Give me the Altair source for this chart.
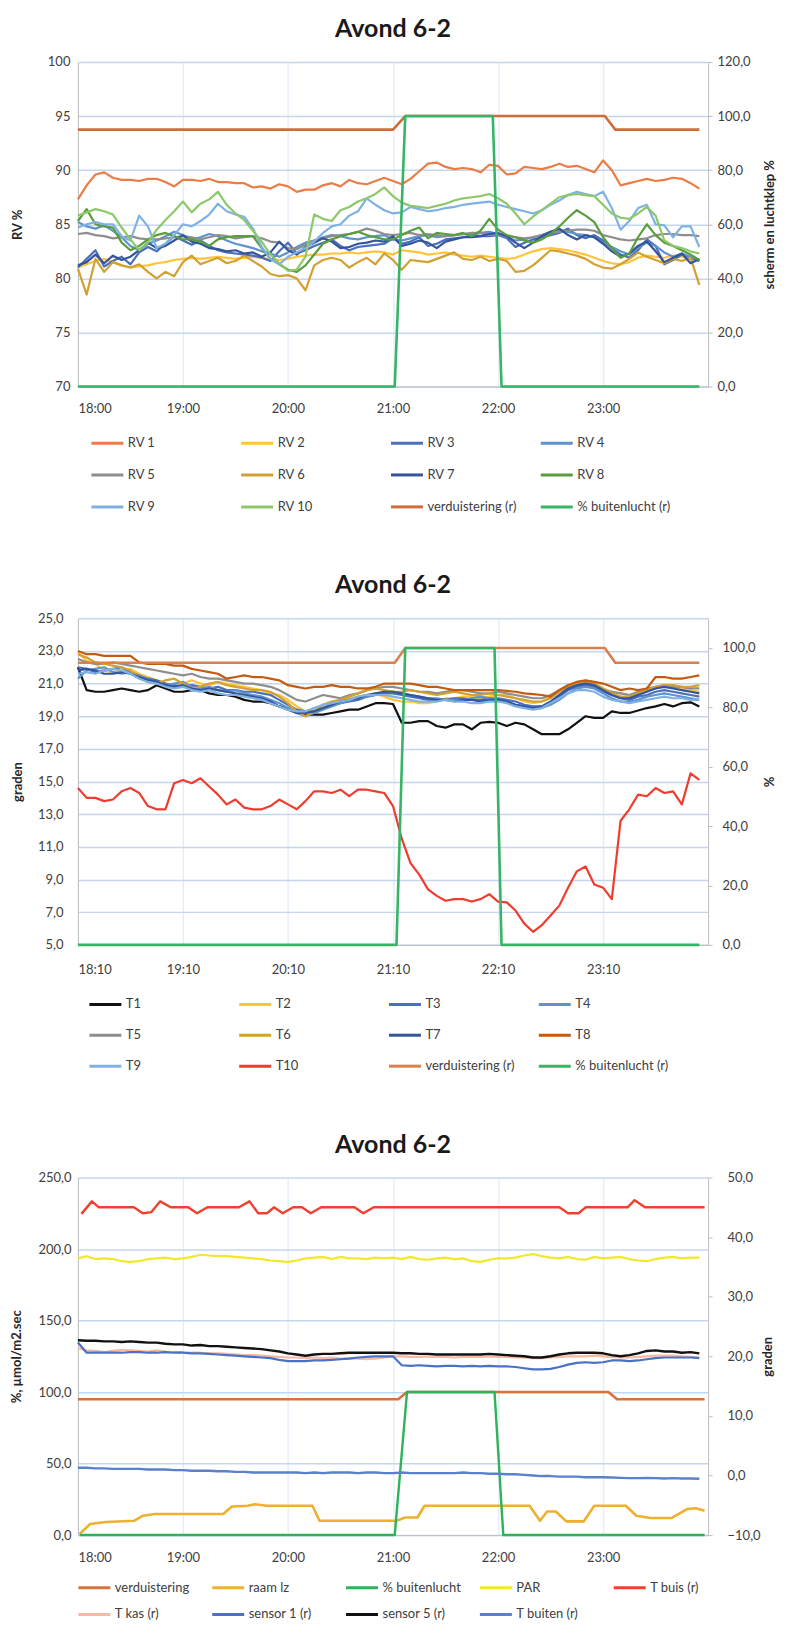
import altair as alt
import pandas as pd

FONT = "Lato"
LBL = "#404040"
AX = "#BFBFBF"
GRID_H = "#C5D7EE"
GRID_V = "#DCE7F4"

# ---------------- Panel 1: RV (minutes after 18:00, 5-min samples) ----------------
rv1 = [87.3, 88.6, 89.6, 89.8, 89.3, 89.1, 89.1, 89.0, 89.2, 89.2, 88.9, 88.5, 89.1, 89.1, 89.0, 89.2, 88.9, 88.9, 88.8, 88.8,
       88.4, 88.5, 88.3, 88.7, 88.5, 88.0, 88.2, 88.2, 88.6, 88.8, 88.5, 89.1, 88.8, 88.7, 89.0, 89.3, 89.0, 88.7, 89.2, 89.9,
       90.6, 90.7, 90.3, 90.1, 90.2, 90.1, 89.8, 90.5, 90.4, 89.6, 89.7, 90.3, 90.2, 90.1, 90.3, 90.6, 90.3, 90.4, 90.1, 89.8,
       90.9, 90.0, 88.6, 88.8, 89.0, 89.2, 89.0, 89.1, 89.3, 89.2, 88.8, 88.3]
rv2 = [81.0, 81.3, 81.6, 81.8, 81.5, 81.2, 81.0, 81.1, 81.2, 81.4, 81.5, 81.7, 81.8, 81.9, 81.8, 81.9, 82.0, 81.9, 81.8, 81.9,
       82.0, 81.9, 81.8, 81.7, 81.8, 82.0, 82.1, 82.2, 82.2, 82.3, 82.3, 82.4, 82.3, 82.4, 82.5, 82.4, 82.2, 82.6, 82.5, 82.4,
       82.2, 82.3, 82.4, 82.2, 82.1, 82.0, 82.1, 82.0, 81.9, 81.8, 81.9, 82.2, 82.5, 82.7, 82.8, 82.7, 82.6, 82.4, 82.2, 81.9,
       81.6, 81.4, 81.3, 81.5, 81.9, 82.1, 82.0, 81.9, 82.1, 82.0, 81.8, 81.6]
rv3 = [81.0, 81.8, 82.6, 81.1, 81.6, 82.0, 81.3, 82.4, 82.9, 82.5, 83.2, 83.9, 83.5, 83.1, 83.5, 83.0, 82.6, 82.4, 82.3, 82.2,
       82.1, 81.9, 81.6, 82.5, 83.3, 82.3, 82.6, 83.0, 83.3, 83.6, 83.0, 82.6, 82.9, 83.0, 83.1, 83.2, 83.7, 83.2, 83.4, 83.8,
       83.0, 83.2, 83.6, 83.7, 83.8, 83.9, 83.9, 83.9, 84.0, 83.7, 82.9, 83.3, 83.6, 83.8, 84.0, 84.2, 84.6, 84.0, 83.7, 84.0,
       83.5, 82.8, 82.2, 81.9, 82.6, 83.6, 83.0, 81.3, 81.7, 82.2, 81.9, 81.6]
rv4 = [85.2, 84.8, 84.6, 84.9, 84.4, 83.8, 83.0, 82.6, 83.2, 83.5, 83.9, 84.3, 84.0, 83.6, 83.8, 84.1, 83.9, 83.5, 83.2, 83.0,
       82.8, 82.5, 82.3, 82.0, 82.4, 82.9, 83.3, 83.5, 83.8, 84.0, 83.9, 83.7, 83.6, 83.8, 83.9, 84.0, 83.6, 83.5, 83.7, 83.9,
       84.0, 83.8, 83.9, 84.0, 84.1, 84.0, 84.2, 84.3, 84.1, 83.8, 83.5, 83.6, 83.8, 84.0, 84.3, 84.5, 84.3, 84.1, 84.0, 83.8,
       83.3, 82.9, 82.5, 82.2, 82.8, 83.3, 83.0, 82.4, 82.0, 82.3, 82.0, 81.7]
rv5 = [84.1, 84.2, 84.0, 83.9, 83.7, 83.8, 83.9, 83.7, 83.6, 83.6, 83.7, 83.8, 83.9, 83.8, 83.6, 83.8, 84.0, 83.9, 83.7, 83.8,
       83.9, 83.7, 83.4, 83.3, 82.8, 82.7, 83.1, 83.5, 83.7, 83.9, 84.0, 84.1, 84.3, 84.6, 84.4, 84.1, 84.0, 84.1, 84.2, 84.0,
       84.1, 84.0, 83.9, 84.0, 84.1, 84.2, 84.2, 84.0, 84.1, 83.9, 83.8, 83.7, 83.8, 84.0, 84.2, 84.3, 84.4, 84.5, 84.5, 84.4,
       84.0, 83.8, 83.6, 83.5, 83.6, 83.7, 84.0, 84.1, 84.1, 84.0, 84.0, 83.9]
rv6 = [80.9, 78.5, 81.8, 80.6, 81.5, 81.2, 81.0, 81.3, 80.6, 80.0, 80.6, 80.2, 81.5, 82.1, 81.3, 81.6, 81.9, 81.4, 81.6, 82.1,
       81.6, 81.1, 80.4, 80.2, 80.3, 80.0, 78.9, 81.2, 81.7, 81.9, 81.7, 81.0, 81.5, 81.9, 81.3, 82.3, 81.7, 80.8, 81.7, 81.6,
       81.5, 81.8, 82.1, 82.4, 81.8, 81.7, 82.0, 81.6, 81.8, 81.6, 80.6, 80.7, 81.2, 81.9, 82.6, 82.5, 82.3, 82.1, 81.8, 81.3,
       81.0, 80.9, 81.3, 81.8, 82.4, 82.0, 81.7, 81.4, 81.8, 81.6, 81.9, 79.4]
rv7 = [81.2, 81.5, 82.2, 81.4, 82.1, 81.7, 82.0, 82.6, 83.3, 82.8, 83.0, 83.5, 84.0, 83.4, 83.2, 82.8, 82.7, 82.5, 82.6, 82.3,
       82.4, 82.0, 82.4, 83.4, 82.6, 82.2, 82.9, 83.3, 83.7, 83.4, 82.8, 82.9, 83.2, 83.3, 83.5, 83.4, 83.9, 83.0, 83.2, 83.5,
       83.3, 82.8, 83.4, 83.6, 83.8, 83.8, 83.9, 84.1, 84.2, 83.9, 83.3, 82.8, 83.3, 83.9, 84.3, 84.6, 84.0, 83.6, 84.0, 83.8,
       83.2, 82.5, 82.0, 82.3, 83.0, 83.4, 82.5, 81.5, 81.9, 82.3, 81.4, 81.8]
rv8 = [85.3, 86.4, 85.0, 84.8, 84.7, 83.3, 82.6, 83.0, 83.6, 84.0, 84.2, 83.9, 83.6, 83.6, 83.4, 83.0, 83.6, 83.8, 83.9, 83.9,
       83.9, 82.8, 81.8, 81.3, 80.8, 80.6, 81.2, 82.2, 83.2, 83.6, 83.9, 84.1, 84.3, 84.0, 83.8, 83.6, 83.6, 84.0, 84.4, 84.7,
       83.7, 84.2, 84.1, 84.0, 84.2, 83.9, 84.4, 85.5, 84.5, 84.0, 83.8, 83.5, 83.3, 83.6, 84.1, 84.8, 85.6, 86.3, 85.8, 85.2,
       83.8, 82.8, 81.9, 82.3, 83.8, 85.0, 84.0, 83.3, 83.0, 82.6, 82.2, 81.7]
rv9 = [84.7, 85.0, 85.2, 85.0, 85.0, 83.9, 83.5, 85.8, 84.8, 82.8, 83.2, 84.0, 85.0, 84.8, 85.3, 85.9, 86.9, 86.2, 85.9, 85.7,
       84.6, 82.9, 81.8, 81.3, 82.0, 82.4, 82.8, 83.4, 84.2, 84.8, 85.0, 85.8, 86.2, 87.4, 86.8, 86.3, 86.0, 86.1, 86.6, 86.4,
       86.2, 86.3, 86.5, 86.6, 86.8, 86.9, 87.0, 87.1, 86.8, 86.6, 86.4, 86.2, 86.0, 86.3, 86.8, 87.2, 87.7, 88.0, 87.8, 87.6,
       88.0, 86.5, 84.5, 85.3, 86.5, 86.8, 85.0, 84.9, 83.8, 84.8, 84.8, 82.9]
rv10 = [85.8, 86.1, 86.4, 86.2, 85.9, 84.7, 83.6, 82.6, 83.3, 84.5, 85.4, 86.2, 87.1, 86.1, 86.9, 87.3, 88.0, 86.8, 86.0, 85.4,
        84.4, 83.4, 82.2, 81.4, 80.7, 80.8, 82.0, 85.9, 85.5, 85.3, 86.3, 86.6, 87.1, 87.4, 87.8, 88.4, 87.6, 87.0, 86.7, 86.6,
        86.5, 86.7, 86.9, 87.2, 87.4, 87.5, 87.6, 87.8, 87.4, 86.9, 86.0, 85.0, 85.7, 86.3, 86.9, 87.5, 87.7, 87.8, 87.7, 87.6,
        86.8, 86.0, 85.6, 85.5, 86.0, 86.6, 85.8, 83.5, 83.0, 82.8, 82.5, 82.3]
verd1_t = [0, 180, 187, 301, 307, 355]
verd1_v = [95, 95, 100, 100, 95, 95]
buit1_t = [0, 181, 187, 237, 242, 355]
buit1_v = [0, 0, 100, 100, 0, 0]

# ---------------- Panel 2: temperatures (minutes after 18:10) ----------------
t1 = [22.0, 20.6, 20.5, 20.5, 20.6, 20.7, 20.6, 20.5, 20.6, 20.9, 20.7, 20.5, 20.5, 20.6, 20.6, 20.4, 20.3, 20.3, 20.2, 20.0,
      19.9, 19.9, 19.8, 19.6, 19.5, 19.2, 19.1, 19.1, 19.1, 19.2, 19.3, 19.4, 19.4, 19.6, 19.8, 19.8, 19.75, 18.6, 18.6, 18.7,
      18.7, 18.4, 18.3, 18.5, 18.5, 18.2, 18.6, 18.65, 18.6, 18.4, 18.6, 18.5, 18.2, 17.9, 17.9, 17.9, 18.2, 18.6, 19.0, 18.9,
      18.9, 19.3, 19.2, 19.2, 19.35, 19.5, 19.6, 19.75, 19.6, 19.8, 19.85, 19.6]
t2 = [22.9, 22.4, 22.2, 21.8, 21.7, 21.8, 21.9, 21.6, 21.4, 21.2, 21.0, 20.8, 21.0, 21.2, 21.0, 20.9, 21.1, 21.0, 20.9, 20.8,
      20.7, 20.6, 20.4, 20.3, 20.0, 19.6, 19.3, 19.4, 19.7, 19.8, 20.0, 20.1, 20.2, 20.3, 20.4, 20.2, 20.0, 19.9, 19.9, 19.8,
      19.8, 19.9, 20.1, 20.1, 20.2, 20.2, 20.1, 20.2, 20.3, 20.3, 20.1, 19.9, 19.8, 19.9, 20.2, 20.6, 20.9, 21.1, 21.1, 21.0,
      20.7, 20.5, 20.4, 20.3, 20.4, 20.6, 20.7, 20.9, 20.8, 20.7, 20.6, 20.5]
t3 = [22.0, 21.9, 21.7, 21.8, 21.9, 22.0, 21.7, 21.5, 21.3, 21.2, 21.0, 20.9, 20.8, 20.9, 20.8, 20.7, 20.8, 20.6, 20.6, 20.5,
      20.5, 20.4, 20.3, 20.0, 19.7, 19.4, 19.3, 19.3, 19.5, 19.7, 19.8, 19.9, 20.0, 20.2, 20.3, 20.4, 20.4, 20.3, 20.2, 20.1,
      20.0, 20.0, 20.0, 20.1, 20.1, 20.0, 20.0, 20.1, 20.1, 20.0, 19.9, 19.7, 19.6, 19.6, 19.8, 20.2, 20.6, 20.8, 20.9, 20.8,
      20.5, 20.3, 20.1, 20.0, 20.2, 20.3, 20.5, 20.6, 20.5, 20.4, 20.3, 20.2]
t4 = [21.3, 21.8, 21.9, 22.0, 21.7, 21.6, 21.7, 21.5, 21.2, 21.0, 20.9, 21.0, 21.1, 20.8, 20.7, 20.8, 20.6, 20.5, 20.6, 20.4,
      20.3, 20.2, 20.0, 19.8, 19.5, 19.2, 19.0, 19.2, 19.4, 19.6, 19.8, 20.0, 20.1, 20.2, 20.3, 20.5, 20.5, 20.4, 20.3, 20.2,
      20.1, 20.1, 20.0, 20.0, 20.0, 20.1, 20.2, 20.1, 20.0, 19.9, 19.7, 19.6, 19.5, 19.5, 19.7, 20.0, 20.4, 20.7, 20.8, 20.7,
      20.4, 20.1, 19.9, 19.9, 20.0, 20.2, 20.3, 20.4, 20.3, 20.2, 20.1, 20.0]
t5 = [22.5, 22.3, 22.2, 22.2, 22.3, 22.2, 22.1, 22.0, 21.9, 21.8, 21.7, 21.6, 21.5, 21.6, 21.4, 21.3, 21.3, 21.2, 21.1, 21.0,
      21.0, 20.9, 20.8, 20.6, 20.3, 20.0, 19.9, 20.1, 20.3, 20.2, 20.1, 20.3, 20.4, 20.6, 20.7, 20.8, 20.8, 20.7, 20.6, 20.5,
      20.5, 20.4, 20.5, 20.6, 20.6, 20.5, 20.4, 20.4, 20.5, 20.4, 20.3, 20.2, 20.1, 20.1, 20.3, 20.6, 20.9, 21.0, 21.0, 20.9,
      20.6, 20.5, 20.4, 20.3, 20.5, 20.7, 20.8, 20.9, 20.8, 20.8, 20.7, 20.7]
t6 = [22.8, 22.6, 22.3, 22.2, 22.1, 22.0, 21.8, 21.4, 21.1, 21.0, 21.2, 21.3, 21.0, 20.7, 20.8, 21.0, 21.1, 20.9, 20.8, 20.7,
      20.6, 20.6, 20.5, 20.2, 19.8, 19.3, 19.0, 19.3, 19.7, 19.9, 20.0, 20.2, 20.4, 20.6, 20.7, 20.6, 20.5, 20.5, 20.6, 20.5,
      20.4, 20.3, 20.4, 20.5, 20.4, 20.3, 20.3, 20.4, 20.3, 20.2, 20.1, 20.0, 19.9, 19.9, 20.1, 20.5, 20.8, 21.0, 21.1, 21.0,
      20.7, 20.4, 20.2, 20.2, 20.4, 20.6, 20.8, 20.9, 20.9, 20.8, 20.8, 20.9]
t7 = [21.8, 21.9, 21.8, 21.6, 21.6, 21.7, 21.6, 21.4, 21.2, 21.1, 20.9, 20.8, 20.9, 20.7, 20.6, 20.7, 20.6, 20.5, 20.4, 20.3,
      20.2, 20.1, 19.9, 19.6, 19.4, 19.2, 19.2, 19.3, 19.5, 19.7, 19.9, 20.0, 20.1, 20.3, 20.4, 20.5, 20.5, 20.4, 20.3, 20.2,
      20.1, 20.0, 20.0, 19.9, 20.0, 20.0, 19.9, 20.0, 20.0, 19.9, 19.7, 19.6, 19.5, 19.6, 19.9, 20.3, 20.7, 20.9, 21.0, 20.9,
      20.6, 20.3, 20.1, 20.1, 20.3, 20.5, 20.7, 20.8, 20.7, 20.6, 20.5, 20.4]
t8 = [23.0, 22.8, 22.8, 22.7, 22.7, 22.7, 22.7, 22.3, 22.2, 22.2, 22.2, 22.1, 22.1, 21.9, 21.8, 21.7, 21.6, 21.3, 21.4, 21.5,
      21.4, 21.4, 21.3, 21.2, 20.9, 20.8, 20.7, 20.8, 20.8, 20.9, 20.8, 20.8, 20.7, 20.7, 20.8, 21.0, 21.0, 21.0, 21.0, 20.9,
      20.8, 20.8, 20.7, 20.6, 20.6, 20.6, 20.6, 20.6, 20.6, 20.55, 20.5, 20.4, 20.35, 20.3, 20.2, 20.6, 20.9, 21.1, 21.2, 21.1,
      21.0, 20.8, 20.6, 20.7, 20.6, 20.7, 21.4, 21.4, 21.3, 21.3, 21.4, 21.5]
t9 = [21.6, 21.7, 21.6, 21.8, 21.9, 21.8, 21.6, 21.3, 21.1, 21.0, 20.8, 20.7, 20.8, 20.6, 20.5, 20.6, 20.4, 20.3, 20.3, 20.2,
      20.1, 20.0, 19.8, 19.6, 19.4, 19.3, 19.3, 19.5, 19.7, 19.8, 19.9, 20.0, 20.2, 20.3, 20.3, 20.3, 20.2, 20.1, 20.0, 19.9,
      19.9, 19.9, 20.0, 19.9, 19.9, 19.8, 19.8, 19.9, 19.9, 19.8, 19.6, 19.5, 19.4, 19.5, 19.8, 20.1, 20.4, 20.6, 20.6, 20.5,
      20.2, 20.0, 19.9, 19.8, 19.9, 20.0, 20.1, 20.2, 20.1, 20.1, 20.0, 20.0]
t10 = [14.6, 14.0, 14.0, 13.8, 13.9, 14.4, 14.6, 14.3, 13.5, 13.3, 13.3, 14.9, 15.1, 14.9, 15.2, 14.7, 14.2, 13.6, 13.9, 13.4,
       13.3, 13.3, 13.5, 13.9, 13.6, 13.3, 13.8, 14.4, 14.4, 14.3, 14.5, 14.1, 14.5, 14.5, 14.4, 14.3, 13.5, 11.5, 10.0, 9.3,
       8.4, 8.0, 7.7, 7.8, 7.8, 7.65, 7.8, 8.1, 7.65, 7.6, 7.1, 6.3, 5.8, 6.2, 6.8, 7.4, 8.5, 9.5, 9.8, 8.7,
       8.5, 7.8, 12.6, 13.3, 14.2, 14.1, 14.6, 14.3, 14.4, 13.6, 15.5, 15.1]
verd2_t = [0, 181, 187, 301, 307, 355]
verd2_v = [95, 95, 100, 100, 95, 95]
buit2_t = [0, 182, 187, 238, 242, 355]
buit2_v = [0, 0, 100, 100, 0, 0]

# ---------------- Panel 3: climate (minutes after 18:00) ----------------
verd3_t = [0, 183, 188, 303, 308, 358]
verd3_v = [95, 95, 100, 100, 95, 95]
raam_t = [1, 2, 7, 16, 32, 37, 44, 83, 88, 97, 101, 108, 134, 138, 182, 187, 194, 198, 258, 264, 268, 273, 279, 289, 295,
          313, 319, 327, 339, 348, 353, 358]
raam_v = [1, 2, 7.7, 9.1, 10, 13.5, 14.7, 14.7, 20, 20.5, 21.6, 20.5, 20.5, 10, 10, 12.3, 12.3, 20.5, 20.5, 10, 16.5, 16.5,
          9.6, 9.6, 20.5, 20.5, 13.5, 11.9, 11.9, 18.2, 18.8, 17.0]
buit3_t = [1, 181, 188, 238, 243, 358]
buit3_v = [0, 0, 100, 100, 0, 0]
par = [193.5, 195.0, 193.0, 193.5, 193.0, 191.5, 191.0, 191.5, 193.0, 193.5, 194.0, 193.0, 193.5, 194.5, 196.0, 195.5, 195.0,
       195.0, 194.5, 194.0, 193.5, 193.0, 192.0, 191.5, 191.0, 192.0, 193.5, 194.0, 194.5, 193.0, 194.5, 193.5, 193.5, 193.0,
       194.0, 193.5, 194.0, 193.0, 194.5, 193.0, 192.5, 193.5, 194.0, 193.0, 193.5, 191.5, 191.0, 192.5, 193.5, 193.5, 194.0,
       195.5, 196.5, 195.0, 194.0, 193.5, 194.5, 193.0, 192.5, 194.5, 193.5, 194.0, 194.5, 193.0, 192.0, 191.5, 193.0, 194.0,
       194.5, 193.5, 194.0, 194.0]
tbuis_t = [2, 8, 12, 32, 37, 42, 47, 53, 63, 68, 74, 92, 98, 103, 108, 112, 117, 123, 128, 133, 139, 158, 163, 169, 275,
           280, 286, 290, 314, 318, 324, 358]
tbuis_v = [43.9, 46, 45, 45, 44, 44.2, 46, 45, 45, 44, 45, 45, 46, 44, 44, 45, 44, 45, 45, 44, 45, 45, 44, 45, 45, 44, 44,
           45, 45, 46.2, 45, 45]
tkas = [21.4, 21.0, 20.9, 20.7, 20.9, 21.1, 21.0, 20.9, 20.8, 21.0, 20.8, 20.7, 20.7, 20.6, 20.6, 20.5, 20.5, 20.4, 20.3,
        20.2, 20.2, 20.1, 20.0, 19.9, 19.8, 19.8, 19.7, 19.8, 19.7, 19.8, 19.6, 19.7, 19.6, 19.5, 19.6, 19.8, 20.0, 20.0,
        19.9, 19.9, 20.0, 19.9, 19.9, 19.8, 19.9, 19.9, 19.9, 20.0, 19.9, 19.9, 19.8, 19.8, 19.7, 19.7, 19.8, 19.9, 20.0,
        20.0, 20.0, 20.1, 20.0, 19.9, 19.8, 19.8, 19.9, 20.0, 20.1, 20.1, 20.1, 20.0, 19.9, 19.8]
sensor1 = [22.3, 20.6, 20.6, 20.6, 20.6, 20.6, 20.7, 20.7, 20.6, 20.6, 20.7, 20.6, 20.6, 20.5, 20.5, 20.4, 20.3, 20.2, 20.1,
           20.0, 19.9, 19.8, 19.7, 19.4, 19.2, 19.2, 19.2, 19.3, 19.3, 19.4, 19.5, 19.6, 19.8, 19.9, 20.0, 20.0, 20.0, 18.5,
           18.4, 18.5, 18.4, 18.3, 18.4, 18.4, 18.3, 18.4, 18.3, 18.4, 18.3, 18.3, 18.2, 18.0, 17.8, 17.8, 17.9, 18.2, 18.6,
           18.9, 19.0, 18.9, 19.0, 19.3, 19.3, 19.2, 19.3, 19.5, 19.7, 19.8, 19.8, 19.8, 19.8, 19.7]
sensor5 = [22.7, 22.6, 22.6, 22.5, 22.5, 22.4, 22.5, 22.4, 22.3, 22.3, 22.1, 22.0, 22.0, 21.8, 21.9, 21.7, 21.7, 21.6, 21.5,
           21.4, 21.3, 21.2, 21.0, 20.8, 20.5, 20.3, 20.1, 20.3, 20.4, 20.4, 20.5, 20.6, 20.6, 20.6, 20.6, 20.6, 20.6, 20.5,
           20.5, 20.4, 20.4, 20.3, 20.3, 20.3, 20.3, 20.3, 20.3, 20.4, 20.3, 20.2, 20.1, 20.0, 19.8, 19.8, 20.0, 20.3, 20.5,
           20.6, 20.6, 20.6, 20.5, 20.2, 20.0, 20.2, 20.5, 20.9, 21.0, 20.8, 20.8, 20.6, 20.7, 20.5]
tbuiten = [1.3, 1.3, 1.2, 1.2, 1.1, 1.1, 1.1, 1.1, 1.0, 1.0, 1.0, 0.9, 0.9, 0.8, 0.8, 0.8, 0.7, 0.7, 0.6, 0.6, 0.5, 0.5,
           0.5, 0.5, 0.5, 0.5, 0.4, 0.5, 0.4, 0.5, 0.5, 0.5, 0.4, 0.5, 0.5, 0.4, 0.4, 0.5, 0.4, 0.4, 0.4, 0.4, 0.4, 0.4,
           0.5, 0.4, 0.4, 0.3, 0.3, 0.2, 0.2, 0.1, 0.0, -0.1, -0.1, -0.2, -0.2, -0.2, -0.3, -0.3, -0.3, -0.35, -0.4,
           -0.45, -0.45, -0.4, -0.45, -0.5, -0.45, -0.5, -0.5, -0.55]

names1 = ["RV 1", "RV 2", "RV 3", "RV 4", "RV 5", "RV 6", "RV 7", "RV 8", "RV 9", "RV 10",
          "verduistering (r)", "% buitenlucht (r)"]
colors1 = ["#EC7C45", "#FFC43A", "#4A6FBF", "#5E93CF", "#8E8E8E", "#D3A032", "#34549C", "#5A9E3C",
           "#7FB2E3", "#8DC86A", "#CF6D3A", "#37B466"]
names2 = ["T1", "T2", "T3", "T4", "T5", "T6", "T7", "T8", "T9", "T10",
          "verduistering (r)", "% buitenlucht (r)"]
colors2 = ["#111111", "#FFC43A", "#4A6FBF", "#5E93CF", "#8E8E8E", "#D3A032", "#34549C", "#C55A11",
           "#7FB2E3", "#F03C2E", "#D9804F", "#37B466"]
names3 = ["verduistering", "raam lz", "% buitenlucht", "PAR", "T buis (r)",
          "T kas (r)", "sensor 1 (r)", "sensor 5 (r)", "T buiten (r)"]
colors3 = ["#D9733A", "#EDB12F", "#2EB35A", "#F2E82A", "#F0402E",
           "#F7B9A0", "#4A72C4", "#111111", "#5B80CC"]


def five(vals):
    return [5 * i for i in range(len(vals))]


def df(name, times, vals):
    n = min(len(times), len(vals))
    return pd.DataFrame({"t": times[:n], "v": vals[:n], "s": [name] * n})


COMMA = "replace(format(datum.value, '.1f'), '.', ',')"


def yaxis(side, values, title, expr, label_pad, title_pad, grid):
    kw = dict(orient=side, values=values, labelExpr=expr, grid=grid, domain=True,
              domainColor=AX, labelPadding=label_pad, labelFont=FONT, labelFontSize=13,
              labelColor=LBL, title=title, titleFont=FONT, titleFontSize=13,
              titleFontWeight="bold", titleColor="#262626", titlePadding=title_pad)
    if grid:
        kw.update(gridColor=GRID_H, gridWidth=1.5)
    if side == "right":
        kw.update(ticks=True, tickColor=AX, tickSize=4, titleAngle=270, titleBaseline="top")
    else:
        kw.update(ticks=False)
    return alt.Axis(**kw)


def panel(left, right, names, colors, ydl, ydr, axl, axr, suffix, xpad, legend, w, h):
    xaxis = alt.Axis(values=[0, 60, 120, 180, 240, 300],
                     labelExpr="(18 + floor(datum.value / 60)) + ':" + suffix + "'",
                     grid=True, gridColor=GRID_V, gridWidth=1, ticks=False, domain=True,
                     domainColor=AX, labelPadding=xpad, labelFont=FONT, labelFontSize=13,
                     labelColor=LBL, title=None)
    x = alt.X("t:Q", scale=alt.Scale(domain=[0, 360], nice=False, zero=False), axis=xaxis)
    color = alt.Color("s:N", scale=alt.Scale(domain=names, range=colors), legend=legend)

    def lines(items, ydom, ax):
        y = alt.Y("v:Q", scale=alt.Scale(domain=ydom, nice=False, zero=False), axis=ax)
        return alt.layer(*[
            alt.Chart(d).mark_line(strokeWidth=sw, strokeJoin="round").encode(x=x, y=y, color=color)
            for d, sw in items
        ])

    return alt.layer(lines(left, ydl, axl), lines(right, ydr, axr)).resolve_scale(
        y="independent"
    ).properties(
        width=w, height=h,
        title=alt.Title("Avond 6-2", font=FONT, fontSize=25, fontWeight="bold",
                        color="#1a1a1a", anchor="middle", offset=14),
    )


def legend(cols, lx, ly, colpad, rowpad):
    return alt.Legend(orient="none", legendX=lx, legendY=ly, direction="horizontal",
                      columns=cols, title=None, symbolType="M-3.2,0H3.2", symbolSize=100,
                      symbolStrokeWidth=3, symbolOffset=10, labelOffset=14,
                      labelFont=FONT, labelFontSize=13, labelColor=LBL, labelLimit=300,
                      gridAlign="all", columnPadding=colpad, rowPadding=rowpad,
                      padding=0, offset=0)


W = 631
rv_all = [rv1, rv2, rv3, rv4, rv5, rv6, rv7, rv8, rv9, rv10]
p1_left = [(df(names1[i], five(v), v), 2.2) for i, v in enumerate(rv_all)]
p1_right = [(df(names1[10], verd1_t, verd1_v), 2.6), (df(names1[11], buit1_t, buit1_v), 2.6)]
p1 = panel(p1_left, p1_right, names1, colors1, [70, 100], [0, 120],
           yaxis("left", [70, 75, 80, 85, 90, 95, 100], "RV %", "format(datum.value, 'd')", 8, 23, True),
           yaxis("right", [0, 20, 40, 60, 80, 100, 120], "scherm en luchtklep %", COMMA, 5, 13, False),
           "00", 16, legend(4, 13, 375, 13, 18), W, 325)

t_all = [t1, t2, t3, t4, t5, t6, t7, t8, t9, t10]
p2_left = [(df(names2[i], five(v), v), 2.2) for i, v in enumerate(t_all)]
p2_right = [(df(names2[10], verd2_t, verd2_v), 2.6), (df(names2[11], buit2_t, buit2_v), 2.6)]
p2 = panel(p2_left, p2_right, names2, colors2, [5, 25], [0, 110],
           yaxis("left", [5, 7, 9, 11, 13, 15, 17, 19, 21, 23, 25], "graden", COMMA, 15, 13, True),
           yaxis("right", [0, 20, 40, 60, 80, 100], "%", COMMA, 10, 8, False),
           "10", 19, legend(4, 11, 380, 13, 17), W, 327)

p3_left = [(df(names3[0], verd3_t, verd3_v), 2.6), (df(names3[1], raam_t, raam_v), 2.6),
           (df(names3[2], buit3_t, buit3_v), 2.4), (df(names3[3], five(par), par), 2.2)]
p3_right = [(df(names3[4], tbuis_t, tbuis_v), 2.4), (df(names3[5], five(tkas), tkas), 2.2),
            (df(names3[6], five(sensor1), sensor1), 2.2), (df(names3[7], five(sensor5), sensor5), 2.4),
            (df(names3[8], five(tbuiten), tbuiten), 2.4)]
p3 = panel(p3_left, p3_right, names3, colors3, [0, 250], [-10, 50],
           yaxis("left", [0, 50, 100, 150, 200, 250], "%, µmol/m2.sec", COMMA, 7, 14, True),
           yaxis("right", [-10, 0, 10, 20, 30, 40, 50], "graden", COMMA, 15, 1, False),
           "00", 16, legend(5, 0, 404, 12, 13), W, 358)

chart = alt.vconcat(p1, p2, p3, spacing=59).resolve_scale(
    color="independent", x="independent", y="independent"
).properties(
    padding={"left": 2, "top": 8, "right": 0, "bottom": 0},
    background="white",
).configure_view(stroke=None)

chart.save("out.html", embed_options={"renderer": "svg", "actions": False})
